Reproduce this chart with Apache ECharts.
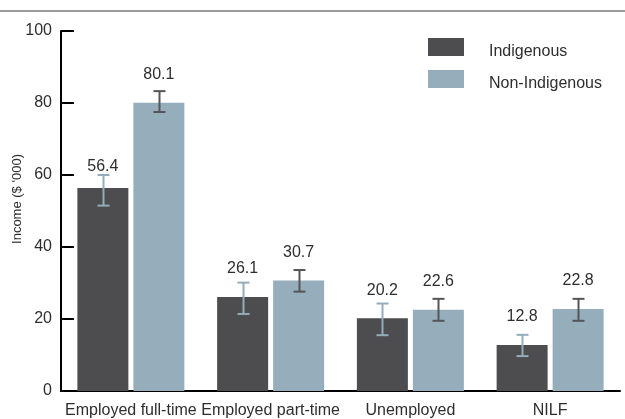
<!DOCTYPE html>
<html>
<head>
<meta charset="utf-8">
<script src="https://cdn.jsdelivr.net/npm/echarts@6/dist/echarts.min.js"></script>
<style>
html,body{margin:0;padding:0;background:#fff;}
#chart{width:625px;height:419px;}
</style>
</head>
<body>
<div id="chart"></div>
<script>
var categories = ['Employed full-time', 'Employed part-time', 'Unemployed', 'NILF'];
var indigenous = [56.4, 26.1, 20.2, 12.8];
var nonIndigenous = [80.1, 30.7, 22.6, 22.8];
var indigenousLow = [51.5, 21.4, 15.5, 9.7];
var indigenousHigh = [60.0, 30.1, 24.3, 15.6];
var nonIndigenousLow = [77.5, 27.6, 19.5, 19.5];
var nonIndigenousHigh = [83.3, 33.6, 25.6, 25.6];
var yTicks = [0, 20, 40, 60, 80, 100];

var DARK = '#4d4d4f';
var LIGHT = '#96aebb';
var TEXT = '#2e2e2e';
var FONT = '"Liberation Sans", Arial, sans-serif';
var BAR_W = 51;
var BAR_GAP = 5;

var chart = echarts.init(document.getElementById('chart'));

function errorSeries(name, low, high, offsetSign, color) {
  var data = low.map(function (v, i) { return [i, v, high[i]]; });
  return {
    type: 'custom',
    name: name,
    z: 5,
    silent: true,
    data: data,
    encode: { x: 0, y: [1, 2] },
    renderItem: function (params, api) {
      var i = api.value(0);
      var top = api.coord([i, api.value(2)]);
      var bot = api.coord([i, api.value(1)]);
      var x = Math.round(top[0] + offsetSign * (BAR_W + BAR_GAP) / 2) + 0.5;
      var style = { stroke: color, lineWidth: 2 };
      var cap = 6;
      return {
        type: 'group',
        children: [
          { type: 'line', shape: { x1: x, y1: top[1], x2: x, y2: bot[1] }, style: style },
          { type: 'line', shape: { x1: x - cap, y1: top[1], x2: x + cap, y2: top[1] }, style: style },
          { type: 'line', shape: { x1: x - cap, y1: bot[1], x2: x + cap, y2: bot[1] }, style: style }
        ]
      };
    }
  };
}

var labelStyle = {
  show: true,
  position: 'top',
  distance: 20,
  color: TEXT,
  fontFamily: FONT,
  fontSize: 16
};

var indData = indigenous.map(function (v, i) {
  // the first Indigenous label sits a little lower in the reference
  return i === 0 ? { value: v, label: { distance: 13 } } : v;
});

chart.setOption({
  animation: false,
  textStyle: { fontFamily: FONT },
  graphic: [{
    type: 'line',
    shape: { x1: 0, y1: 11, x2: 625, y2: 11 },
    style: { stroke: '#9a9a9a', lineWidth: 2 }
  }],
  grid: { left: 61, right: 5, top: 31, bottom: 28, containLabel: false, outerBoundsMode: 'none' },
  legend: {
    orient: 'vertical',
    left: 428,
    top: 38,
    padding: 0,
    itemWidth: 36,
    itemHeight: 18,
    itemGap: 10,
    icon: 'rect',
    data: ['Indigenous', 'Non-Indigenous'],
    formatter: '{t|{name}}',
    textStyle: {
      color: TEXT, fontSize: 16, fontFamily: FONT,
      rich: { t: { color: TEXT, fontSize: 16, fontFamily: FONT, padding: [10, 0, 0, 20] } }
    }
  },
  xAxis: {
    type: 'category',
    data: categories,
    axisLine: { lineStyle: { color: '#000', width: 2 } },
    axisTick: { inside: true, length: 8, lineStyle: { color: '#000', width: 2 } },
    axisLabel: { color: TEXT, fontSize: 16, margin: 12, fontFamily: FONT, interval: 0 }
  },
  yAxis: {
    type: 'value',
    min: yTicks[0],
    max: yTicks[yTicks.length - 1],
    interval: yTicks[1] - yTicks[0],
    name: "Income ($ '000)",
    nameLocation: 'middle',
    nameGap: 37,
    nameMoveOverlap: false,
    nameTextStyle: { color: TEXT, fontSize: 13, fontFamily: FONT, padding: [0, 0, 0, 24] },
    splitLine: { show: false },
    axisLine: { show: true, lineStyle: { color: '#000', width: 2 } },
    axisTick: { show: true, inside: true, length: 13, lineStyle: { color: '#000', width: 2 } },
    axisLabel: { color: TEXT, fontSize: 16, margin: 9, fontFamily: FONT }
  },
  series: [
    {
      name: 'Indigenous',
      type: 'bar',
      data: indData,
      barWidth: BAR_W,
      barGap: (BAR_GAP / BAR_W * 100) + '%',
      itemStyle: { color: DARK },
      label: labelStyle
    },
    {
      name: 'Non-Indigenous',
      type: 'bar',
      data: nonIndigenous,
      barWidth: BAR_W,
      itemStyle: { color: LIGHT },
      label: labelStyle
    },
    errorSeries('errInd', indigenousLow, indigenousHigh, -1, '#93adba'),
    errorSeries('errNon', nonIndigenousLow, nonIndigenousHigh, 1, '#555557')
  ]
});
</script>
</body>
</html>
